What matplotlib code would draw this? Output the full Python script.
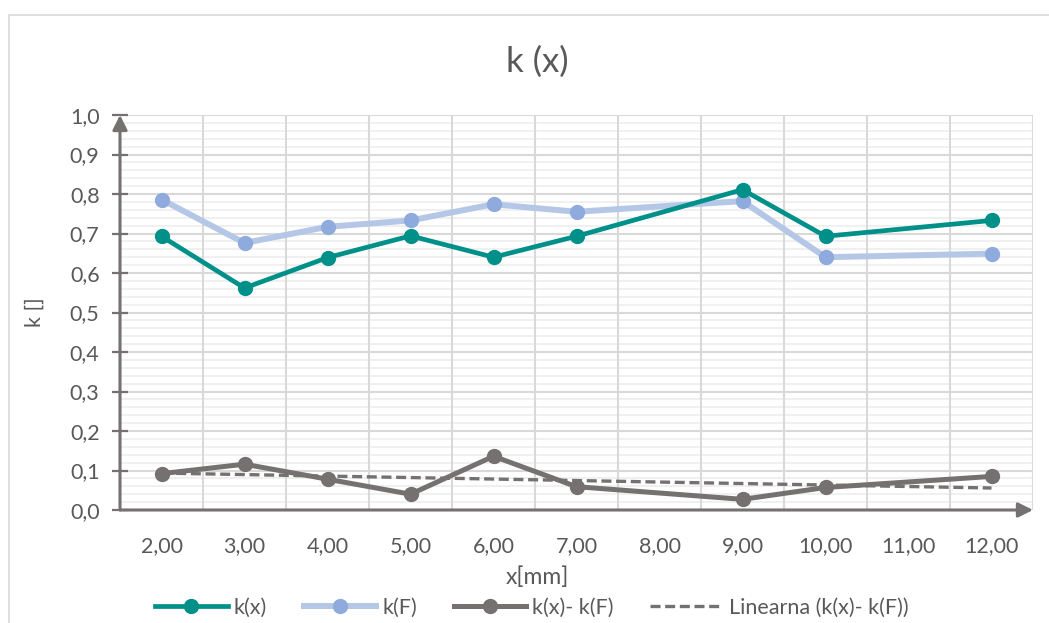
import numpy as np
import matplotlib
matplotlib.use("Agg")
import matplotlib.pyplot as plt
from matplotlib.patches import Rectangle

plt.rcParams['font.family'] = ['Lato', 'DejaVu Sans']

# kategorije na osi x (8,00 i 11,00 nemaju podatke)
x_labels = ['2,00', '3,00', '4,00', '5,00', '6,00', '7,00', '8,00', '9,00', '10,00', '11,00', '12,00']
k_x = [0.693, 0.562, 0.639, 0.694, 0.640, 0.693, np.nan, 0.811, 0.693, np.nan, 0.733]
k_F = [0.786, 0.676, 0.717, 0.733, 0.774, 0.755, np.nan, 0.782, 0.640, np.nan, 0.649]
k_diff = [0.092, 0.116, 0.078, 0.040, 0.136, 0.059, np.nan, 0.027, 0.057, np.nan, 0.085]
y_ticks = [0.0, 0.1, 0.2, 0.3, 0.4, 0.5, 0.6, 0.7, 0.8, 0.9, 1.0]

txt = "#595959"
teal = "#00908A"
lblue_line = "#B4C7E7"
lblue_mark = "#8FAADC"
gray = "#767171"

pos = np.arange(len(x_labels))

def valid(v):
    v = np.array(v, dtype=float)
    m = ~np.isnan(v)
    return pos[m], v[m]

fig = plt.figure(figsize=(10.49, 6.23), dpi=100)
fig.patches.append(Rectangle((9/1049, -0.1), 1.2, 1 - 15/623 + 0.1, transform=fig.transFigure,
                             fill=False, edgecolor="#D9D9D9", lw=1.2))
ax = fig.add_axes([120/1049, 1 - 510/623, 913/1049, 395/623])

# mreza
for yv in np.arange(0, 1.0001, 0.02):
    if round(yv * 50) % 5 != 0:
        ax.axhline(yv, color="#EFEFEF", lw=1.3, zorder=0)
for yv in y_ticks:
    ax.axhline(yv, color="#D9D9D9", lw=1.5, zorder=0)
for xv in np.arange(-0.5, len(x_labels), 1.0):
    ax.axvline(xv, color="#D9D9D9", lw=1.5, zorder=0)

xs, ys = valid(k_x)
ax.plot(xs, ys, color=teal, lw=3.4, marker='o', ms=10, mfc=teal, mec=teal, label='k(x)', zorder=4)
xs, ys = valid(k_F)
ax.plot(xs, ys, color=lblue_line, lw=4.3, marker='o', ms=10, mfc=lblue_mark, mec=lblue_mark,
        label='k(F)', zorder=3)
xs, ys = valid(k_diff)
ax.plot(xs, ys, color=gray, lw=3.6, marker='o', ms=10, mfc=gray, mec=gray, label='k(x)- k(F)', zorder=4)

# linearni trend
coef = np.polyfit(xs, ys, 1)
tx = np.array([pos[0], pos[-1]])
ax.plot(tx, np.polyval(coef, tx), color=gray, lw=2.4, ls=(0, (3, 1.4)),
        label='Linearna (k(x)- k(F))', zorder=3)

ax.set_xlim(-0.5, len(x_labels) - 0.5)
ax.set_ylim(0, 1.0)
ax.set_xticks(pos)
ax.set_xticklabels(x_labels)
ax.set_yticks(y_ticks)
ax.set_yticklabels([f"{v:.1f}".replace('.', ',') for v in y_ticks])
ax.tick_params(axis='x', length=0, pad=19, labelsize=15.5, labelcolor=txt)
ax.tick_params(axis='y', direction='inout', length=11.5, width=1.6, color=gray,
               pad=9, labelsize=15.5, labelcolor=txt)
for s in ax.spines.values():
    s.set_visible(False)

# osi sa strelicama
ax.annotate('', xy=(0, 1.0), xytext=(0, 0), xycoords='axes fraction',
            arrowprops=dict(arrowstyle='-|>', color=gray, lw=2.2, mutation_scale=22,
                            shrinkA=0, shrinkB=0), annotation_clip=False)
ax.annotate('', xy=(1.0, 0), xytext=(0, 0), xycoords='axes fraction',
            arrowprops=dict(arrowstyle='-|>', color=gray, lw=2.2, mutation_scale=22,
                            shrinkA=0, shrinkB=0), annotation_clip=False)

fig.text(537/1049, 1 - 62/623, "k (x)", ha='center', va='center', fontsize=25, color=txt)
fig.text(35/1049, 1 - 312/623, "k []", ha='center', va='center', rotation=90, fontsize=15.5, color=txt)
fig.text(537/1049, 1 - 577/623, "x[mm]", ha='center', va='center', fontsize=16.5, color=txt)

leg = fig.legend(loc='center', bbox_to_anchor=(532/1049, 1 - 608/623), ncol=4, frameon=False,
                 fontsize=15.5, handlelength=3.35, columnspacing=1.7, handletextpad=0.3)
for t in leg.get_texts():
    t.set_color(txt)

fig.savefig("out.png", dpi=100)
